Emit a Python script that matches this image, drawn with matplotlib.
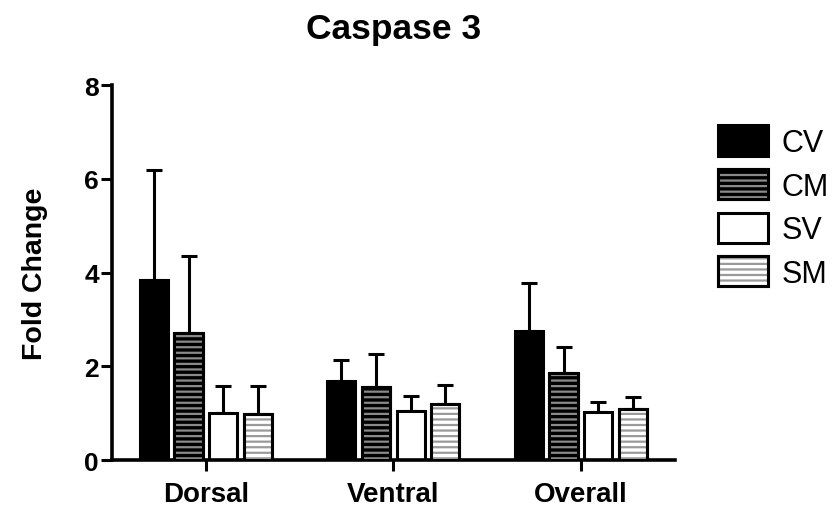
import numpy as np
import matplotlib.pyplot as plt
from matplotlib.patches import Patch
from matplotlib.legend_handler import HandlerTuple

plt.rcParams['font.family'] = ['Liberation Sans', 'DejaVu Sans']
plt.rcParams['hatch.linewidth'] = 1.6

groups = ['Dorsal', 'Ventral', 'Overall']
series = ['CV', 'CM', 'SV', 'SM']
means = {
    'CV': [3.84, 1.69, 2.76],
    'CM': [2.71, 1.55, 1.85],
    'SV': [1.00, 1.04, 1.02],
    'SM': [0.98, 1.19, 1.09],
}
upper = {
    'CV': [6.19, 2.14, 3.77],
    'CM': [4.36, 2.27, 2.42],
    'SV': [1.57, 1.36, 1.23],
    'SM': [1.57, 1.60, 1.34],
}

face = {'CV': 'black', 'CM': 'black', 'SV': 'white', 'SM': 'white'}
hatch = {'CV': None, 'CM': '---', 'SV': None, 'SM': '---'}
hatch_col = {'CM': '#8a8a8a', 'SM': '#9a9a9a'}

fig = plt.figure(figsize=(8.37, 5.10), dpi=100)
ax = fig.add_axes([0.134, 0.096, 0.672, 0.735])

x = np.arange(len(groups))
step = 0.185
width = 0.15
lw = 2.2

for i, s in enumerate(series):
    pos = x + (i - 1.5) * step
    m = np.array(means[s])
    err = np.array(upper[s]) - m
    ax.errorbar(pos, m, yerr=[np.zeros_like(m), err], fmt='none', ecolor='black',
                elinewidth=lw, capsize=5.5, capthick=lw, zorder=1)
    ax.bar(pos, m, width=width, color=face[s], edgecolor='black', linewidth=lw, zorder=2)
    if hatch[s]:
        ax.bar(pos, m, width=width, color='none', edgecolor=hatch_col[s],
               hatch=hatch[s], linewidth=0, zorder=3)
        ax.bar(pos, m, width=width, color='none', edgecolor='black', linewidth=lw, zorder=4)

ax.set_xlim(-0.5, 2.5)
ax.set_ylim(0, 8)
ax.set_yticks([0, 2, 4, 6, 8])
ax.set_xticks(x)
ax.set_xticklabels(groups, fontsize=20, fontweight='bold')
for t in ax.get_yticklabels():
    t.set_fontsize(19)
    t.set_fontweight('bold')
ax.tick_params(axis='y', direction='out', length=8, width=2.2, pad=1.5)
ax.tick_params(axis='x', direction='out', length=8, width=2.2, pad=7)
for side in ['top', 'right']:
    ax.spines[side].set_visible(False)
for side in ['left', 'bottom']:
    ax.spines[side].set_linewidth(2.6)
ax.set_ylabel('Fold Change', fontsize=20.5, fontweight='bold', labelpad=26)
ax.set_title('Caspase 3', fontsize=25.5, fontweight='bold', pad=34)

handles = []
for s in series:
    base = Patch(facecolor=face[s], edgecolor='black', linewidth=lw)
    if hatch[s]:
        over = Patch(facecolor='none', edgecolor=hatch_col[s], hatch='---', linewidth=0)
        edge = Patch(facecolor='none', edgecolor='black', linewidth=lw)
        handles.append((base, over, edge))
    else:
        handles.append(base)

fig.legend(handles, series, loc='upper left', bbox_to_anchor=(0.858, 0.752),
           frameon=False, fontsize=22, handlelength=1.62, handleheight=1.15,
           labelspacing=0.36, handletextpad=0.45, borderpad=0, borderaxespad=0,
           handler_map={tuple: HandlerTuple(ndivide=1)})

fig.savefig('out.png', dpi=100)
